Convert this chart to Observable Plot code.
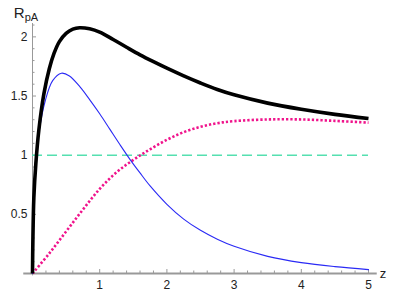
<!DOCTYPE html>
<html>
<head>
<meta charset="utf-8">
<script src="https://cdn.jsdelivr.net/npm/d3@7"></script>
<script src="https://cdn.jsdelivr.net/npm/@observablehq/plot@0.6"></script>
<style>
  html, body { margin: 0; padding: 0; background: #fff; }
  #chart svg { display: block; }
</style>
</head>
<body>
<div id="chart"></div>
<script>
// Total R_pA (thick black)
const totalZ = [0, 0.005, 0.02, 0.05, 0.094, 0.17, 0.25, 0.32, 0.4, 0.5, 0.6, 0.7, 0.85, 1.0, 1.2, 1.4, 1.6, 1.8, 2.0, 2.25, 2.5, 2.75, 3.0, 3.5, 4.0, 4.5, 5];
const totalV = [0, 0.25, 0.64, 0.93, 1.21, 1.52, 1.73, 1.86, 1.96, 2.03, 2.065, 2.077, 2.068, 2.04, 1.978, 1.912, 1.848, 1.79, 1.735, 1.67, 1.61, 1.555, 1.51, 1.44, 1.388, 1.345, 1.31];
// Blue component
const blueZ = [0, 0.005, 0.02, 0.05, 0.094, 0.19, 0.3, 0.43, 0.55, 0.71, 0.85, 1.0, 1.15, 1.3, 1.45, 1.6, 1.75, 2.0, 2.25, 2.5, 2.75, 3.0, 3.5, 4.0, 4.5, 5];
const blueV = [0, 0.25, 0.6, 0.88, 1.18, 1.46, 1.63, 1.693, 1.67, 1.575, 1.47, 1.35, 1.22, 1.09, 0.965, 0.85, 0.74, 0.585, 0.46, 0.365, 0.29, 0.23, 0.145, 0.092, 0.058, 0.033];
// Magenta dotted component
const pinkZ = [0, 0.25, 0.5, 0.75, 1.0, 1.25, 1.5, 1.75, 2.0, 2.25, 2.5, 2.75, 3.0, 3.5, 4.0, 4.5, 5];
const pinkV = [0, 0.17, 0.355, 0.54, 0.715, 0.855, 0.96, 1.05, 1.13, 1.195, 1.24, 1.27, 1.288, 1.302, 1.302, 1.29, 1.275];
// Reference level
const refLevel = [1];
// Ticks
const xMajor = [1, 2, 3, 4, 5];
const xMinor = [0.2,0.4,0.6,0.8,1.2,1.4,1.6,1.8,2.2,2.4,2.6,2.8,3.2,3.4,3.6,3.8,4.2,4.4,4.6,4.8];
const yMajor = [0.5, 1, 1.5, 2];
const yMinor = [0.1,0.2,0.3,0.4,0.6,0.7,0.8,0.9,1.1,1.2,1.3,1.4,1.6,1.7,1.8,1.9,2.1];

const toRows = (zs, vs) => zs.map((z, i) => ({z, v: vs[i]}));
const total = toRows(totalZ, totalV);
const blue = toRows(blueZ, blueV);
const pink = toRows(pinkZ, pinkV);

const font = "Liberation Sans, Arial, Helvetica, sans-serif";

const plot = Plot.plot({
  width: 399,
  height: 291,
  marginLeft: 32,
  marginRight: 31,
  marginTop: 23,
  marginBottom: 18,
  style: {fontFamily: font, background: "#fff", overflow: "visible"},
  x: {domain: [0, 5], axis: null},
  y: {domain: [0, 2.113], axis: null},
  marks: [
    // axes lines
    Plot.ruleY([0], {x1: -0.13, x2: 5.13, stroke: "#999", strokeWidth: 2}),
    Plot.ruleX([0], {y1: -0.02, y2: 2.113, stroke: "#999", strokeWidth: 1}),
    // x ticks (upward)
    Plot.ruleX(xMinor, {x: d => d, y1: 0, y2: 0, insetBottom: 2.5, stroke: "#999", strokeWidth: 1}),
    Plot.ruleX(xMajor, {x: d => d, y1: 0, y2: 0, insetBottom: 4, stroke: "#999", strokeWidth: 1}),
    // y ticks (rightward)
    Plot.ruleY(yMinor, {y: d => d, x1: 0, x2: 0, insetRight: -2.5, stroke: "#999", strokeWidth: 1}),
    Plot.ruleY(yMajor, {y: d => d, x1: 0, x2: 0, insetRight: -4, stroke: "#999", strokeWidth: 1}),
    // tick labels
    Plot.text(xMajor, {x: d => d, y: 0, text: d => String(d), dy: 12, fontSize: 12, fill: "#222"}),
    Plot.text(yMajor, {x: 0, y: d => d, text: d => String(d), textAnchor: "end", dx: -5, fontSize: 12, fill: "#222"}),
    // curves
    Plot.ruleY(refLevel, {y: d => d, x1: 0, x2: 5, stroke: "#55e0b0", strokeWidth: 1.5, strokeDasharray: "10,5", strokeLinecap: "butt"}),
    Plot.line(pink, {x: "z", y: "v", curve: "catmull-rom", stroke: "#f0148c", strokeWidth: 2.6, strokeDasharray: "2.3,2", strokeLinecap: "butt"}),
    Plot.line(blue, {x: "z", y: "v", curve: "catmull-rom", stroke: "#2a2af5", strokeWidth: 1.1}),
    Plot.line(total, {x: "z", y: "v", curve: "catmull-rom", stroke: "#000", strokeWidth: 3.6, strokeLinecap: "butt"})
  ]
});

const svg = d3.select(plot);
// y axis title R_pA
const t = svg.append("text")
  .attr("x", 26).attr("y", 18)
  .attr("font-family", font).attr("font-size", 15).attr("fill", "#222");
t.append("tspan").text("R");
t.append("tspan").attr("font-size", 11).attr("dy", 3).text("pA");
// x axis title
svg.append("text")
  .attr("x", 383).attr("y", 278)
  .attr("font-family", font).attr("font-size", 13).attr("fill", "#222")
  .text("z");

document.getElementById("chart").appendChild(plot);
</script>
</body>
</html>
